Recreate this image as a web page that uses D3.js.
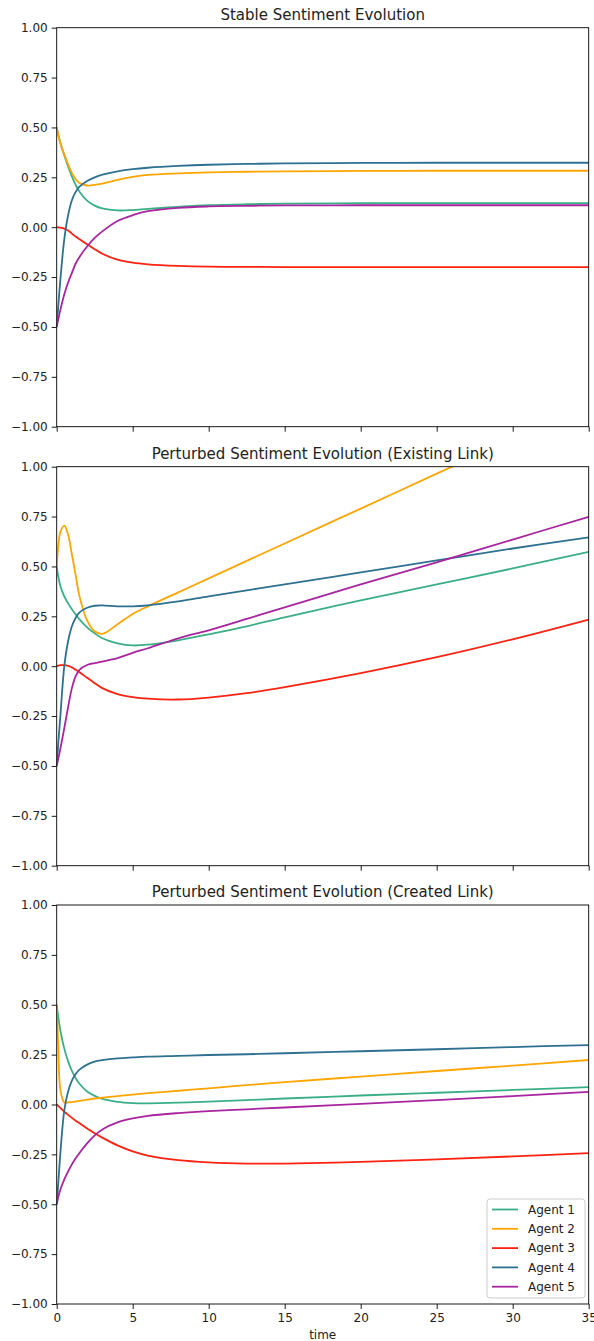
<!DOCTYPE html>
<html>
<head>
  <meta charset="utf-8">
  <script src="https://cdn.jsdelivr.net/npm/d3@7"></script>
  <style>
    body { margin: 0; background: #fff; }
    text { font-family: "DejaVu Sans", sans-serif; fill: #222; }
  </style>
</head>
<body>
  <svg id="chart" width="594" height="1341"></svg>
  <script>
    // sample times shared by every series
    const times = [0, 0.1, 0.25, 0.5, 0.75, 1, 1.25, 1.5, 2, 2.5, 3, 4, 5, 6, 8, 10, 12.5, 15, 20, 25, 30, 35]

    const agents = ["Agent 1", "Agent 2", "Agent 3", "Agent 4", "Agent 5"]
    const colors = ["#3aaf85", "#ffa500", "#ff2211", "#2e7090", "#a8259f"]

    const titles = [
      "Stable Sentiment Evolution",
      "Perturbed Sentiment Evolution (Existing Link)",
      "Perturbed Sentiment Evolution (Created Link)"
    ]

    // one row per agent, values at `times`
    const stable = [
      [0.5, 0.465, 0.42, 0.36, 0.305, 0.255, 0.212, 0.178, 0.133, 0.108, 0.094, 0.084, 0.086, 0.092, 0.102, 0.11, 0.115, 0.118, 0.12, 0.121, 0.121, 0.121],
      [0.5, 0.465, 0.42, 0.365, 0.315, 0.272, 0.24, 0.222, 0.209, 0.212, 0.219, 0.237, 0.252, 0.262, 0.27, 0.275, 0.278, 0.28, 0.282, 0.283, 0.283, 0.283],
      [0, -0.0005, -0.002, -0.007, -0.017, -0.032, -0.047, -0.06, -0.086, -0.11, -0.133, -0.163, -0.178, -0.186, -0.194, -0.198, -0.199, -0.2, -0.2, -0.2, -0.2, -0.2],
      [-0.5, -0.4, -0.255, -0.06, 0.06, 0.135, 0.177, 0.203, 0.232, 0.25, 0.263, 0.28, 0.291, 0.298, 0.307, 0.313, 0.317, 0.32, 0.322, 0.323, 0.323, 0.323],
      [-0.5, -0.463, -0.412, -0.336, -0.277, -0.229, -0.182, -0.149, -0.097, -0.054, -0.021, 0.031, 0.06, 0.08, 0.097, 0.104, 0.107, 0.109, 0.11, 0.11, 0.11, 0.11]
    ]

    const existingLink = [
      [0.5, 0.45, 0.40, 0.35, 0.315, 0.285, 0.26, 0.235, 0.195, 0.165, 0.14, 0.115, 0.104, 0.108, 0.13, 0.16, 0.2, 0.245, 0.33, 0.41, 0.49, 0.573],
      [0.5, 0.6, 0.675, 0.705, 0.66, 0.56, 0.455, 0.35, 0.23, 0.175, 0.162, 0.21, 0.262, 0.3, 0.37, 0.44, 0.528, 0.615, 0.79, 0.965, 1.14, 1.315],
      [0, 0.003, 0.005, 0.005, 0.002, -0.006, -0.018, -0.03, -0.058, -0.085, -0.11, -0.14, -0.155, -0.163, -0.167, -0.157, -0.135, -0.105, -0.035, 0.045, 0.135, 0.234],
      [-0.5, -0.39, -0.24, 0.0, 0.125, 0.2, 0.243, 0.27, 0.293, 0.303, 0.305, 0.3, 0.3, 0.305, 0.325, 0.35, 0.38, 0.41, 0.47, 0.53, 0.59, 0.646],
      [-0.5, -0.465, -0.41, -0.31, -0.205, -0.11, -0.05, -0.018, 0.006, 0.016, 0.023, 0.04, 0.067, 0.09, 0.14, 0.18, 0.237, 0.295, 0.41, 0.52, 0.635, 0.749]
    ]

    const createdLink = [
      [0.5, 0.442, 0.367, 0.28, 0.216, 0.168, 0.132, 0.104, 0.065, 0.043, 0.028, 0.013, 0.007, 0.006, 0.009, 0.014, 0.022, 0.03, 0.045, 0.059, 0.073, 0.087],
      [0.5, 0.3, 0.07, 0.01, 0.011, 0.012, 0.015, 0.018, 0.024, 0.03, 0.034, 0.042, 0.05, 0.057, 0.069, 0.081, 0.097, 0.112, 0.14, 0.168, 0.195, 0.223],
      [0, -0.007, -0.018, -0.036, -0.052, -0.067, -0.081, -0.094, -0.12, -0.144, -0.166, -0.205, -0.235, -0.256, -0.279, -0.29, -0.296, -0.296, -0.288, -0.275, -0.26, -0.244],
      [-0.5, -0.4, -0.235, -0.03, 0.065, 0.12, 0.153, 0.175, 0.2, 0.215, 0.222, 0.231, 0.236, 0.24, 0.244, 0.248, 0.252, 0.257, 0.267, 0.277, 0.288, 0.298],
      [-0.5, -0.465, -0.425, -0.375, -0.335, -0.3, -0.27, -0.243, -0.195, -0.155, -0.125, -0.09, -0.07, -0.057, -0.043, -0.033, -0.024, -0.015, 0.003, 0.022, 0.042, 0.063]
    ]

    const xTicks = [0, 5, 10, 15, 20, 25, 30, 35]
    const yTicks = [-1, -0.75, -0.5, -0.25, 0, 0.25, 0.5, 0.75, 1]

    const panels = [stable, existingLink, createdLink]
    const tops = [27.7, 466.7, 905]
    const h = 399
    const left = 56.7, right = 588.7

    const svg = d3.select("#chart")

    const x = d3.scaleLinear().domain([0, 35]).range([left, right])

    panels.forEach((series, i) => {
      const top = tops[i]
      const y = d3.scaleLinear().domain([-1, 1]).range([top + h, top])
      const g = svg.append("g")

      g.append("clipPath").attr("id", "clip" + i)
        .append("rect")
        .attr("x", left).attr("y", top)
        .attr("width", right - left).attr("height", h)

      const line = d3.line()
        .x((d, k) => x(times[k]))
        .y(d => y(d))
        .curve(d3.curveCatmullRom.alpha(0.5))

      g.append("g").attr("clip-path", `url(#clip${i})`)
        .selectAll("path")
        .data(series)
        .join("path")
        .attr("d", line)
        .attr("fill", "none")
        .attr("stroke", (d, k) => colors[k])
        .attr("stroke-width", 1.8)

      const yAxis = g.append("g")
        .attr("transform", `translate(${left},0)`)
        .call(d3.axisLeft(y).tickValues(yTicks).tickFormat(d3.format(".2f"))
          .tickSize(5).tickPadding(4))
      const xAxis = g.append("g")
        .attr("transform", `translate(0,${top + h})`)
        .call(d3.axisBottom(x).tickValues(xTicks)
          .tickFormat(i === 2 ? d3.format("d") : () => "")
          .tickSize(5).tickPadding(4))

      for (const a of [yAxis, xAxis]) {
        a.select(".domain").remove()
        a.selectAll("line").attr("stroke", "#000").attr("stroke-width", 0.9)
        a.selectAll("text").attr("font-size", 12).attr("fill", "#222")
          .attr("font-family", "DejaVu Sans, sans-serif")
      }

      g.append("rect")
        .attr("x", left).attr("y", top)
        .attr("width", right - left).attr("height", h)
        .attr("fill", "none").attr("stroke", "#000").attr("stroke-width", 0.9)

      g.append("text")
        .attr("x", (left + right) / 2).attr("y", top - 8)
        .attr("text-anchor", "middle")
        .attr("font-size", 15)
        .text(titles[i])
    })

    svg.append("text")
      .attr("x", (left + right) / 2).attr("y", 1339)
      .attr("text-anchor", "middle")
      .attr("font-size", 12)
      .text("time")

    // legend, lower right of the last panel
    const lg = svg.append("g").attr("transform", "translate(487,1199)")
    lg.append("rect")
      .attr("width", 98).attr("height", 99).attr("rx", 3)
      .attr("fill", "#fff").attr("fill-opacity", 0.8)
      .attr("stroke", "#ccc").attr("stroke-width", 1)
    const item = lg.selectAll("g.item")
      .data(agents)
      .join("g").attr("class", "item")
      .attr("transform", (d, k) => `translate(0,${10.5 + k * 19.3})`)
    item.append("line")
      .attr("x1", 5).attr("x2", 31)
      .attr("stroke", (d, k) => colors[k]).attr("stroke-width", 1.8)
    item.append("text")
      .attr("x", 41).attr("dy", "0.35em")
      .attr("font-size", 12)
      .text(d => d)
  </script>
</body>
</html>
